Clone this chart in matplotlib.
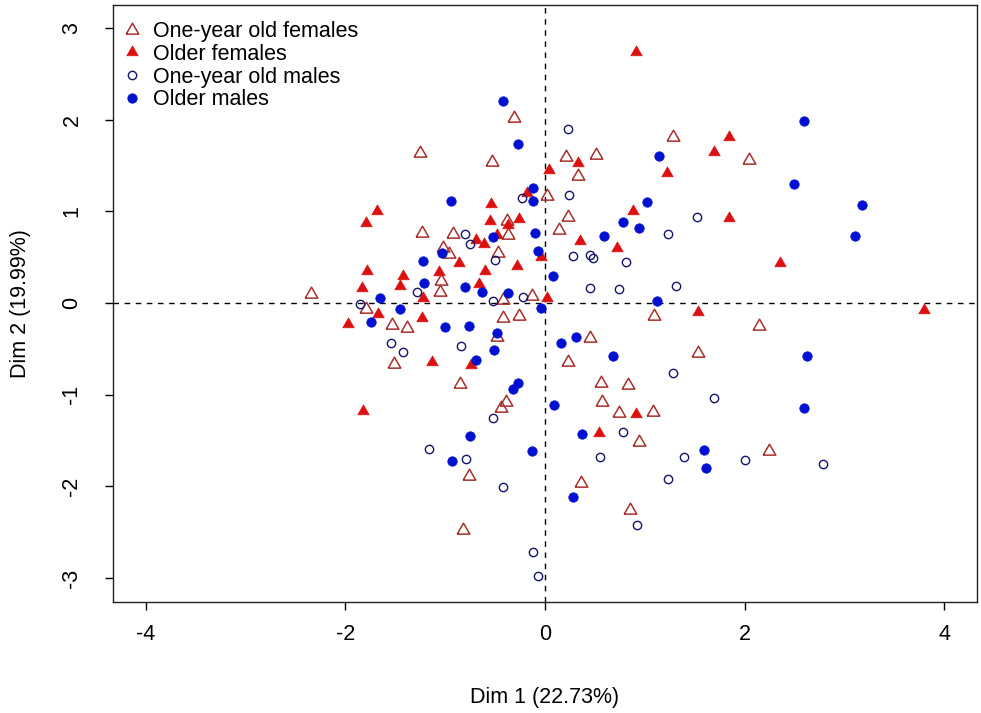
import matplotlib
matplotlib.use("Agg")
import matplotlib.pyplot as plt
import numpy as np

plt.rcParams['font.family'] = ['Liberation Sans', 'DejaVu Sans']
plt.rcParams['axes.unicode_minus'] = False

# individual coordinates on the first two PCA dimensions
yf_x = [-0.31, 1.28, -1.25, 0.21, 0.51, -0.53, 0.33, 0.02, -0.38, 0.23, -1.23, -0.92, -0.37, 0.14,
        -1.02, -0.96, -0.47, -1.04, -1.05, -0.13, -0.42, 2.04, -2.35, -1.79, -1.53, -1.38, -1.51,
        -0.42, -0.26, 1.09, -0.48, 0.45, 1.53, 0.23, -0.85, 0.56, 0.83, -0.39, -0.44, 0.57, 0.74,
        1.08, 0.94, -0.76, 0.36, 0.85, -0.82, 2.15, 2.25]
yf_y = [2.02, 1.81, 1.64, 1.59, 1.61, 1.54, 1.39, 1.17, 0.89, 0.94, 0.76, 0.75, 0.74, 0.80,
        0.60, 0.53, 0.55, 0.24, 0.12, 0.08, 0.03, 1.56, 0.10, -0.07, -0.24, -0.27, -0.66,
        -0.16, -0.14, -0.14, -0.37, -0.38, -0.55, -0.64, -0.88, -0.87, -0.89, -1.08, -1.15, -1.08, -1.20,
        -1.19, -1.52, -1.89, -1.96, -2.26, -2.48, -0.25, -1.61]

of_x = [0.91, 0.33, 0.04, 1.22, -0.18, -0.54, 0.88, -0.55, -0.37, -0.26, 0.35, -0.69, -0.61, -0.48,
        0.72, -0.04, -0.86, -0.28, -0.60, -1.06, -1.42, -0.66, -1.22, 0.02, 1.84, 1.69, 1.84, 2.36,
        -1.68, -1.79, -1.78, -1.45, -1.83, -1.67, -1.97, -1.82, 1.53, 3.80, -1.23, -1.13, -0.74,
        0.91, 0.54]
of_y = [2.74, 1.53, 1.45, 1.42, 1.20, 1.08, 1.00, 0.89, 0.85, 0.92, 0.68, 0.69, 0.64, 0.74,
        0.60, 0.50, 0.44, 0.40, 0.35, 0.34, 0.29, 0.21, 0.05, 0.05, 1.81, 1.65, 0.93, 0.44,
        1.00, 0.87, 0.35, 0.19, 0.16, -0.12, -0.23, -1.18, -0.10, -0.08, -0.16, -0.64, -0.68,
        -1.21, -1.42]

ym_x = [0.23, -0.23, 0.24, 1.52, -0.80, 1.23, -0.75, -0.50, 0.28, 0.45, 0.48, 0.81, 0.45, 0.74,
        1.31, -1.28, -0.22, -0.52, -1.85, -1.54, -1.42, -0.84, 1.28, -0.52, -1.16, 0.78, -0.79,
        0.55, 1.39, -0.42, 1.23, 0.92, -0.12, -0.07, 1.69, 2.00, 2.79]
ym_y = [1.90, 1.15, 1.18, 0.94, 0.75, 0.75, 0.64, 0.47, 0.51, 0.52, 0.49, 0.45, 0.16, 0.15,
        0.19, 0.12, 0.07, 0.02, -0.01, -0.44, -0.53, -0.47, -0.76, -1.25, -1.59, -1.41, -1.70,
        -1.68, -1.68, -2.01, -1.92, -2.42, -2.71, -2.98, -1.04, -1.71, -1.76]

om_x = [-0.42, -0.27, 1.14, -0.12, -0.12, -0.94, 1.02, 0.78, 0.94, -0.52, -0.10, 0.59, -0.07,
        -1.03, -1.22, 0.08, -1.21, -0.80, -0.63, -0.37, 1.12, 2.60, 2.50, 3.18, 3.11, -1.65,
        -1.74, -1.45, -0.04, -1.00, -0.76, -0.48, -0.51, 0.16, 0.31, 0.68, -0.69, -0.27, -0.32,
        0.09, -0.75, 0.37, -0.13, -0.93, 0.28, 2.63, 2.60, 1.59, 1.61]
om_y = [2.20, 1.73, 1.60, 1.25, 1.11, 1.11, 1.10, 0.88, 0.82, 0.72, 0.76, 0.73, 0.57,
        0.55, 0.46, 0.29, 0.22, 0.17, 0.12, 0.11, 0.02, 1.99, 1.30, 1.07, 0.73, 0.05,
        -0.21, -0.07, -0.05, -0.26, -0.25, -0.33, -0.51, -0.44, -0.37, -0.58, -0.62, -0.87, -0.94,
        -1.11, -1.45, -1.43, -1.61, -1.72, -2.12, -0.58, -1.15, -1.60, -1.80]

labels = ['One-year old females', 'Older females', 'One-year old males', 'Older males']

# equilateral triangle like R's pch 2 / 17 (closed so the outline is complete)
tri = [(-1, -0.577), (1, -0.577), (0, 1.155), (-1, -0.577)]

fig = plt.figure(figsize=(9.81, 7.13), dpi=100)
ax = fig.add_axes([0.1152, 0.1557, 0.8807, 0.8373])

ax.axhline(0, color='black', lw=1, ls=(0, (4, 4)), zorder=1)
ax.axvline(0, color='black', lw=1, ls=(0, (4, 4)), zorder=1)

ax.plot(yf_x, yf_y, ls='none', marker=tri, ms=10.5, mfc='none', mec='#a8302c', mew=1.1,
        label=labels[0], zorder=3)
ax.plot(of_x, of_y, ls='none', marker=tri, ms=9.5, mfc='#dd1010', mec='#dd1010', mew=0.5,
        label=labels[1], zorder=3)
ax.plot(ym_x, ym_y, ls='none', marker='o', ms=6, mfc='none', mec='#15156e', mew=1.0,
        label=labels[2], zorder=3)
ax.plot(om_x, om_y, ls='none', marker='o', ms=6.8, mfc='#0010d0', mec='#0010d0', mew=0.5,
        label=labels[3], zorder=3)

ax.set_xlim(-4.33, 4.33)
ax.set_ylim(-3.26, 3.25)
ax.set_xticks([-4, -2, 0, 2, 4])
ax.set_yticks([-3, -2, -1, 0, 1, 2, 3])
ax.tick_params(direction='out', length=6, width=1, labelsize=15.5, color='black')
ax.tick_params(axis='x', pad=10)
ax.tick_params(axis='y', pad=16)
for lab in ax.get_yticklabels():
    lab.set_rotation(90)
    lab.set_va('center')
for s in ax.spines.values():
    s.set_linewidth(1)
    s.set_color('#222222')

ax.set_xlabel('Dim 1 (22.73%)', fontsize=15.5, labelpad=30)
ax.set_ylabel('Dim 2 (19.99%)', fontsize=15.5, labelpad=22)

ax.legend(loc='upper left', bbox_to_anchor=(-0.009, 1.0), frameon=False, fontsize=15.5,
          handlelength=1.0, handletextpad=0.45, labelspacing=0.08, borderaxespad=0.55,
          borderpad=0.2)

fig.savefig('out.png', dpi=100)
